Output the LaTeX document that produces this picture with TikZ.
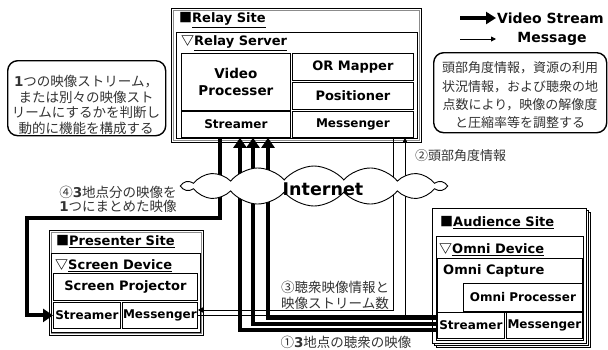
\documentclass[tikz,border=0pt]{standalone}
\usepackage{fontspec}
\setmainfont{DejaVu Sans}
\newfontfamily\jp{Noto Sans CJK JP}
\usetikzlibrary{shapes.symbols,arrows.meta}
\newcommand{\bnum}[1]{{\rmfamily\bfseries #1}}
\begin{document}
\begin{tikzpicture}[x=1pt,y=-1pt,
 frm/.style={draw=black, line width=0.8pt, fill=white, inner sep=0pt, anchor=north west},
 grayfrm/.style={draw=black!45, line width=0.8pt, inner sep=0pt, anchor=north west},
 box/.style={frm, font=\bfseries\fontsize{13}{16}\selectfont, align=center},
 sbox/.style={frm, font=\bfseries\fontsize{12}{14}\selectfont, align=center},
 ttl/.style={anchor=west, inner sep=0pt, font=\bfseries\fontsize{13}{15}\selectfont},
 vid/.style={line width=4pt, black},
 vidarr/.style={vid, -{Triangle[length=10pt,width=13pt]}},
 msg/.style={line width=0.9pt, black},
 msgarr/.style={msg, -{Triangle[length=5pt,width=5pt]}},
 note/.style={draw, line width=1.4pt, rounded corners=10pt, anchor=north west, inner sep=0pt},
 jtxt/.style={inner sep=0pt, align=center, font=\jp\fontsize{13}{18}\selectfont, text=black!80},
 lgd/.style={inner sep=0pt, font=\bfseries\fontsize{14}{16}\selectfont}
]
\useasboundingbox (0,0) rectangle (608,349);

% ---------- Relay Site ----------
\node[frm, minimum width=250pt, minimum height=134pt] (rsite) at (171,8) {};
\node[grayfrm, minimum width=246pt, minimum height=130pt] (rsiteg) at (173,10) {};
\node[ttl] (rsitet) at (179,20) {{\jp ■}\underline{Relay Site}};
\node[frm, minimum width=241pt, minimum height=106pt] (rserver) at (176,32) {};
\node[ttl] (rservert) at (181,43) {{\jp ▽}\underline{Relay Server}};
\node[box, minimum width=109pt, minimum height=57pt, font=\bfseries\fontsize{13.5}{17}\selectfont] (vp) at (181,53) {Video\\Processer};
\node[box, minimum width=121pt, minimum height=27pt] (orm) at (292,53) {OR Mapper};
\node[box, minimum width=121pt, minimum height=27pt] (pos) at (292,82) {Positioner};
\node[sbox, minimum width=109pt, minimum height=26pt] (rst) at (181,111) {Streamer};
\node[sbox, minimum width=121pt, minimum height=26pt] (rms) at (292,111) {Messenger};

% ---------- Presenter Site ----------
\node[frm, minimum width=154pt, minimum height=105pt] (psite) at (49,230) {};
\node[grayfrm, minimum width=150pt, minimum height=101pt] (psiteg) at (51,232) {};
\node[ttl] (psitet) at (56,242) {{\jp ■}\underline{Presenter Site}};
\node[frm, minimum width=149pt, minimum height=79pt] (pdev) at (51,253) {};
\node[ttl] (pdevt) at (55,266) {{\jp ▽}\underline{Screen Device}};
\node[box, minimum width=144pt, minimum height=27pt] (spj) at (53,273) {Screen Projector};
\node[sbox, minimum width=67pt, minimum height=26pt] (pst) at (53,302) {Streamer};
\node[sbox, minimum width=75pt, minimum height=26pt] (pms) at (122,302) {Messenger};

% ---------- Audience Site ----------
\node[frm, minimum width=154pt, minimum height=135pt] (asite3) at (436,212) {};
\node[frm, minimum width=154pt, minimum height=135pt] (asite2) at (434,210) {};
\node[frm, minimum width=154pt, minimum height=135pt] (asite) at (432,208) {};
\node[ttl] (asitet) at (440,223) {{\jp ■}\underline{Audience Site}};
\node[frm, minimum width=147pt, minimum height=104pt] (odev) at (436,236) {};
\node[ttl] (odevt) at (439,250) {{\jp ▽}\underline{Omni Device}};
\node[frm, minimum width=145pt, minimum height=54pt] (ocap) at (437,258) {};
\node[ttl] (ocapt) at (443,271) {Omni Capture};
\node[sbox, minimum width=119pt, minimum height=28pt] (oproc) at (463,283) {Omni Processer};
\node[sbox, minimum width=67pt, minimum height=26pt] (ast) at (437,312) {Streamer};
\node[sbox, minimum width=76pt, minimum height=26pt] (ams) at (506,312) {Messenger};

% ---------- Legend ----------
\coordinate (lv1) at (460,18);
\coordinate (lv2) at (496,18);
\coordinate (lm1) at (460,39);
\coordinate (lm2) at (496,39);
\draw[line width=4.5pt, -{Triangle[length=10pt,width=12pt]}] (lv1) -- (lv2);
\draw[msgarr] (lm1) -- (lm2);
\node[lgd, anchor=west] (lvt) at (497,18) {Video Stream};
\node[lgd] (lmt) at (552,39) {Message};

% ---------- Notes ----------
\node[note, minimum width=158pt, minimum height=75pt] (n1) at (7,60) {};
\node[jtxt, font=\jp\fontsize{13.5}{15.5}\selectfont] (n1t) at (86,105) {\bnum{1}つの映像ストリーム，\\または別々の映像スト\\リームにするかを判断し\\動的に機能を構成する};
\node[note, minimum width=173pt, minimum height=80pt] (n2) at (433,52) {};
\node[jtxt, font=\jp\fontsize{13}{18.3}\selectfont] (n2t) at (520,95.5) {頭部角度情報，資源の利用\\状況情報，および聴衆の地\\点数により，映像の解像度\\と圧縮率等を調整する};

% ---------- Message connectors ----------
\coordinate (m1) at (393,310);
\coordinate (m2) at (405,315);
\draw[msgarr] (rms.south -| m1) -- (m1) -- (pms.east |- m1);
\draw[msg] (pms.east |- m2) -- (ast.west |- m2);
\draw[msgarr] (m2) -- (rms.south -| m2);

% ---------- Video connectors ----------
\coordinate (vx) at (220,218);
\coordinate (vy) at (27,218);
\draw[vidarr] (rst.south -| vx) -- (vx) -- (vy) |- (pst.west);
\coordinate (a1) at (268,318);
\coordinate (a2) at (253,324);
\coordinate (a3) at (240,330);
\draw[vidarr] (ast.west |- a1) -- (a1) -- (rst.south -| a1);
\draw[vidarr] (ast.west |- a2) -- (a2) -- (rst.south -| a2);
\draw[vidarr] (ast.west |- a3) -- (a3) -- (rst.south -| a3);

% ---------- Internet cloud ----------
\node[cloud, cloud puffs=14, cloud puff arc=100, aspect=6.5, draw, fill=white, line width=0.9pt, minimum width=262pt, minimum height=40pt, inner sep=0pt] (net) at (314,186) {};
\node[inner sep=0pt, font=\bfseries\fontsize{17.5}{20}\selectfont] (nett) at (323,189) {Internet};

% ---------- Labels ----------
\node[jtxt, anchor=west] (l2) at (415,156) {②頭部角度情報};
\node[jtxt, font=\jp\fontsize{13.5}{16}\selectfont] (l3) at (335,295) {③聴衆映像情報と\\映像ストリーム数};
\node[jtxt, font=\jp\fontsize{13.5}{16}\selectfont] (l1) at (346,342) {①\bnum{3}地点の聴衆の映像};
\node[jtxt, font=\jp\fontsize{13.5}{14}\selectfont] (l4) at (118,199) {④\bnum{3}地点分の映像を\\\bnum{1}つにまとめた映像};
\end{tikzpicture}
\end{document}
